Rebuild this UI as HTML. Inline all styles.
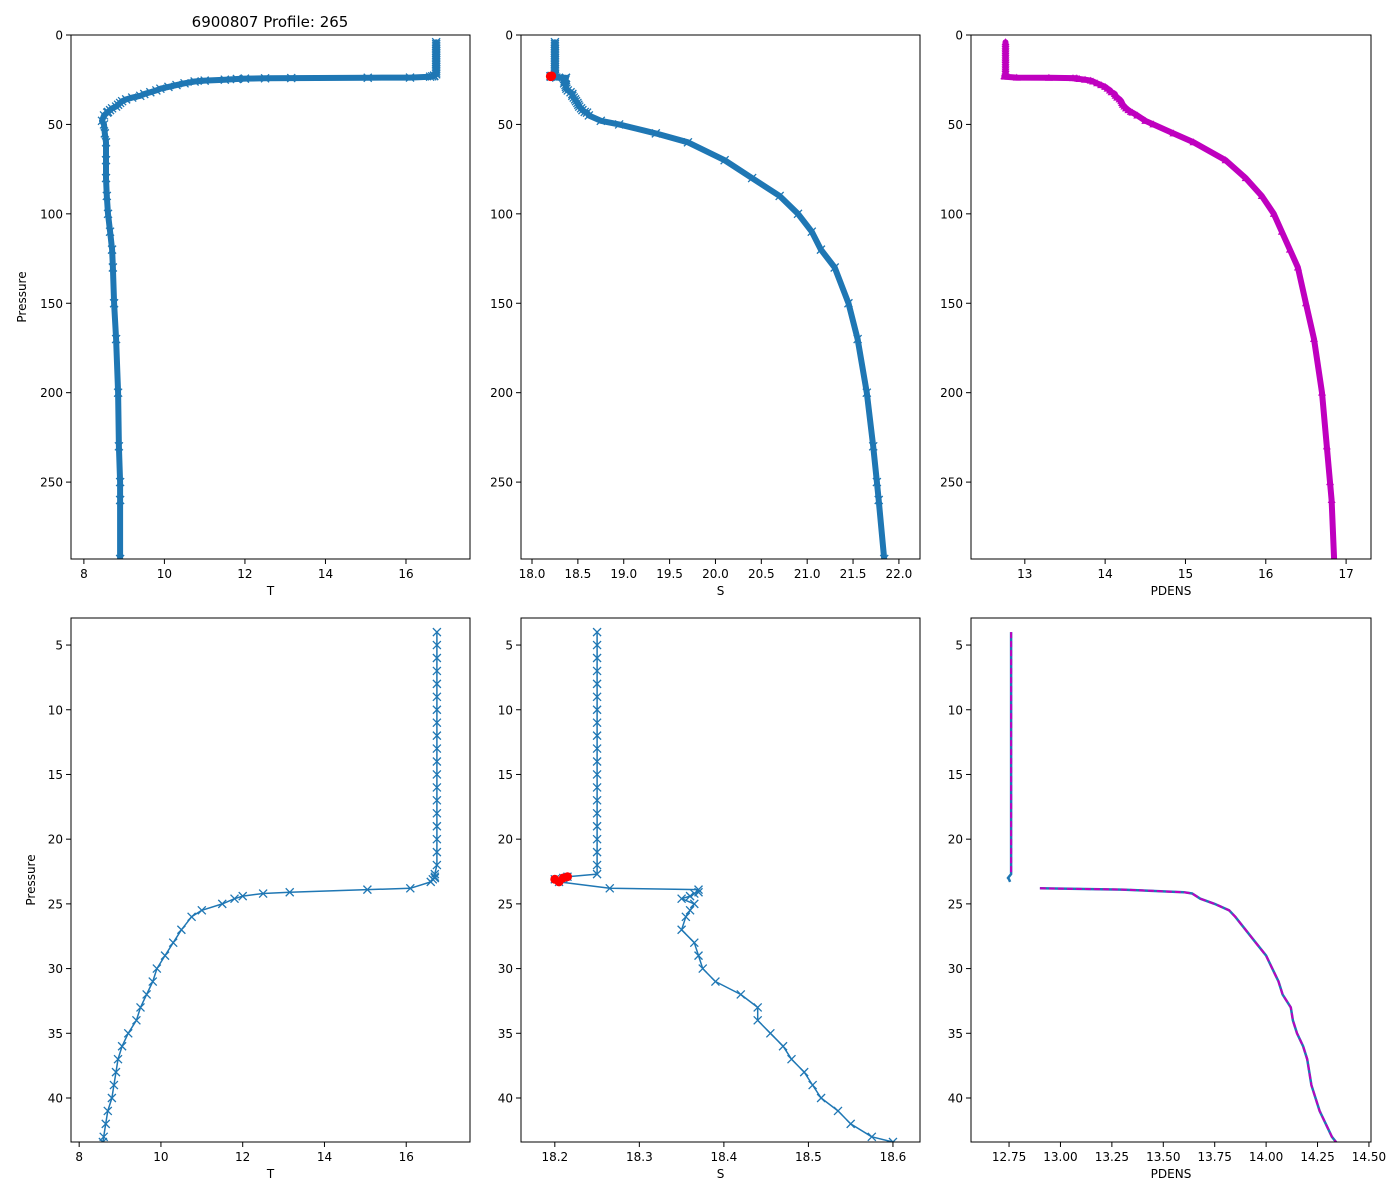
<!DOCTYPE html>
<html><head><meta charset="utf-8">
<style>
html,body{margin:0;padding:0;background:#fff;overflow:hidden;width:1400px;height:1200px;}
svg{display:block;font-family:"DejaVu Sans","Liberation Sans",sans-serif;}
</style></head>
<body>
<svg id="fig" width="1400" height="1200" viewBox="0 0 1400 1200" xmlns="http://www.w3.org/2000/svg">
<rect width="1400" height="1200" fill="#fff"/>
<text x="270" y="27" font-size="15" text-anchor="middle">6900807 Profile: 265</text>
</svg>
<script>
const pressure = [4,5,6,7,8,9,10,11,12,13,14,15,16,17,18,19,20,21,22,22.7,22.9,23.0,23.1,23.3,23.8,23.9,24.1,24.2,24.4,24.6,25,25.5,26,27,28,29,30,31,32,33,34,35,36,37,38,39,40,41,42,43,43.4,45,48,50,55,60,70,80,90,100,110,120,130,150,170,200,230,250,260,293];
const tempVals = [16.75,16.75,16.75,16.75,16.75,16.75,16.75,16.75,16.75,16.75,16.75,16.75,16.75,16.75,16.75,16.75,16.75,16.75,16.75,16.7,16.7,16.7,16.65,16.6,16.1,15.05,13.15,12.5,12.0,11.8,11.5,11.0,10.75,10.5,10.3,10.1,9.9,9.8,9.65,9.5,9.4,9.2,9.05,8.95,8.9,8.85,8.8,8.7,8.65,8.6,8.58,8.5,8.45,8.5,8.52,8.55,8.55,8.55,8.57,8.6,8.65,8.7,8.72,8.75,8.8,8.85,8.87,8.9,8.9,8.9];
const salVals = [18.25,18.25,18.25,18.25,18.25,18.25,18.25,18.25,18.25,18.25,18.25,18.25,18.25,18.25,18.25,18.25,18.25,18.25,18.25,18.25,18.215,18.21,18.2,18.205,18.265,18.37,18.37,18.365,18.36,18.35,18.365,18.36,18.355,18.35,18.365,18.37,18.375,18.39,18.42,18.44,18.44,18.455,18.47,18.48,18.495,18.505,18.515,18.535,18.55,18.575,18.6,18.62,18.75,18.95,19.35,19.7,20.1,20.4,20.7,20.9,21.05,21.15,21.3,21.45,21.55,21.65,21.72,21.76,21.78,21.84];
const pdensVals = [12.76,12.76,12.76,12.76,12.76,12.76,12.76,12.76,12.76,12.76,12.76,12.76,12.76,12.76,12.76,12.76,12.76,12.76,12.76,12.76,12.75,12.745,12.75,12.755,12.9,13.3,13.6,13.64,13.66,13.68,13.75,13.82,13.85,13.9,13.95,14.0,14.03,14.06,14.08,14.12,14.13,14.15,14.18,14.2,14.21,14.22,14.24,14.26,14.29,14.32,14.34,14.4,14.5,14.6,14.85,15.1,15.5,15.75,15.95,16.1,16.2,16.3,16.4,16.5,16.6,16.7,16.76,16.8,16.82,16.85];
const redFlags = [0,0,0,0,0,0,0,0,0,0,0,0,0,0,0,0,0,0,0,0,1,1,1,1,0,0,0,0,0,0,0,0,0,0,0,0,0,0,0,0,0,0,0,0,0,0,0,0,0,0,0,0,0,0,0,0,0,0,0,0,0,0,0,0,0,0,0,0,0,0];
const gapAfter = 23;
const topYTicks = [0,50,100,150,200,250];
const botYTicks = [5,10,15,20,25,30,35,40];
const tTicksTop = [8,10,12,14,16];
const sTicksTop = [18.0,18.5,19.0,19.5,20.0,20.5,21.0,21.5,22.0];
const dTicksTop = [13,14,15,16,17];
const tTicksBot = [8,10,12,14,16];
const sTicksBot = [18.2,18.3,18.4,18.5,18.6];
const dTicksBot = [12.75,13.00,13.25,13.50,13.75,14.00,14.25,14.50];

const NS='http://www.w3.org/2000/svg';
const svg=document.getElementById('fig');
function mk(tag,attrs,parent){const e=document.createElementNS(NS,tag);for(const k in attrs)e.setAttribute(k,attrs[k]);(parent||svg).appendChild(e);return e;}

const panels=[
 {name:'top-temperature',x0:71,x1:470,y0:35,y1:559,xmin:7.68,xmax:17.59,ymin:0,ymax:293,vals:tempVals,xt:tTicksTop,yt:topYTicks,xl:'T',yl:true,kind:'x',fmt:v=>String(v),thick:true},
 {name:'top-salinity',x0:521,x1:920,y0:35,y1:559,xmin:17.88,xmax:22.23,ymin:0,ymax:293,vals:salVals,xt:sTicksTop,yt:topYTicks,xl:'S',yl:false,kind:'x',fmt:v=>v.toFixed(1),thick:true,red:true},
 {name:'top-density',x0:971,x1:1371,y0:35,y1:559,xmin:12.33,xmax:17.31,ymin:0,ymax:293,vals:pdensVals,xt:dTicksTop,yt:topYTicks,xl:'PDENS',yl:false,kind:'tri',fmt:v=>String(v),thick:true},
 {name:'bottom-temperature',x0:71,x1:470,y0:618,y1:1142,xmin:7.80,xmax:17.56,ymin:2.91,ymax:43.4,vals:tempVals,xt:tTicksBot,yt:botYTicks,xl:'T',yl:true,kind:'x',fmt:v=>String(v)},
 {name:'bottom-salinity',x0:521,x1:920,y0:618,y1:1142,xmin:18.16,xmax:18.632,ymin:2.91,ymax:43.4,vals:salVals,xt:sTicksBot,yt:botYTicks,xl:'S',yl:false,kind:'x',fmt:v=>v.toFixed(1),red:true},
 {name:'bottom-density',x0:971,x1:1371,y0:618,y1:1142,xmin:12.565,xmax:14.51,ymin:2.91,ymax:43.4,vals:pdensVals,xt:dTicksBot,yt:botYTicks,xl:'PDENS',yl:false,kind:'dash',fmt:v=>v.toFixed(2)}
];

panels.forEach(p=>{
 const g=mk('g',{});
 
 
 const clipId='clip-'+p.name;
 const cp=mk('clipPath',{id:clipId},g);
 mk('rect',{x:p.x0,y:p.y0,width:p.x1-p.x0,height:p.y1-p.y0},cp);
 const sx=v=>p.x0+(v-p.xmin)/(p.xmax-p.xmin)*(p.x1-p.x0);
 const sy=v=>p.y0+(v-p.ymin)/(p.ymax-p.ymin)*(p.y1-p.y0);
 const plot=mk('g',{'clip-path':'url(#'+clipId+')'},g);
 
 
 const pts=pressure.map((pr,i)=>[sx(p.vals[i]),sy(pr)]);
 const toStr=a=>a.map(q=>q[0].toFixed(1)+','+q[1].toFixed(1)).join(' ');
 if(p.kind==='dash'){
  const seg1=pts.slice(0,gapAfter+1),seg2=pts.slice(gapAfter+1);
  [seg1,seg2].forEach((s,k)=>{
   const l=mk('polyline',{points:toStr(s),fill:'none',stroke:'#1f77b4','stroke-width':2.5},plot);
   
   
   const d=mk('polyline',{points:toStr(k===0?s.slice(0,20):s),fill:'none',stroke:'#bf00bf','stroke-width':2,'stroke-dasharray':'6,3'},plot);
   
   
  });
 } else {
  const col=p.kind==='tri'?'#bf00bf':'#1f77b4';
  const line=mk('polyline',{points:toStr(pts),fill:'none',stroke:col,'stroke-width':p.thick?6:1.5,'stroke-linejoin':'round','stroke-linecap':'round'},plot);
  
  
  pts.forEach((q,i)=>{
   let m;
   if(p.kind==='tri'){
    m=mk('polygon',{points:`${q[0]},${q[1]-4} ${q[0]-4},${q[1]+3} ${q[0]+4},${q[1]+3}`,fill:col},plot);
   } else {
    m=mk('path',{d:`M${q[0]-4},${q[1]-4}L${q[0]+4},${q[1]+4}M${q[0]-4},${q[1]+4}L${q[0]+4},${q[1]-4}`,stroke:col,'stroke-width':1.3,fill:'none'},plot);
   }
   
   
  });
  if(p.red){
   pts.forEach((q,i)=>{ if(redFlags[i]){
    const c=mk('circle',{cx:q[0],cy:q[1],r:4.5,fill:'#ff0000'},plot);
    
    
   }});
  }
 }
 const fr=mk('rect',{x:p.x0,y:p.y0,width:p.x1-p.x0,height:p.y1-p.y0,fill:'none',stroke:'#000','stroke-width':1},g);
 
 
 p.xt.forEach(v=>{
  const x=sx(v);
  mk('line',{x1:x,x2:x,y1:p.y1,y2:p.y1+5,stroke:'#000'},g);
  const t=mk('text',{x:x,y:p.y1+19,'font-size':12,'text-anchor':'middle'},g);
  t.textContent=p.fmt(v);
  
  
 });
 p.yt.forEach(v=>{
  const y=sy(v);
  mk('line',{x1:p.x0-5,x2:p.x0,y1:y,y2:y,stroke:'#000'},g);
  const t=mk('text',{x:p.x0-8,y:y+4.5,'font-size':12,'text-anchor':'end'},g);
  t.textContent=String(v);
  
  
 });
 const xl=mk('text',{x:(p.x0+p.x1)/2,y:p.y1+36,'font-size':12,'text-anchor':'middle'},g);
 xl.textContent=p.xl;
 
 
 if(p.yl){
  const yx=p.y0<100?26:35, yy=(p.y0+p.y1)/2;
  const yl=mk('text',{x:yx,y:yy,'font-size':12,'text-anchor':'middle',transform:`rotate(-90 ${yx} ${yy})`},g);
  yl.textContent='Pressure';
  
  
 }
});
</script>
</body></html>
